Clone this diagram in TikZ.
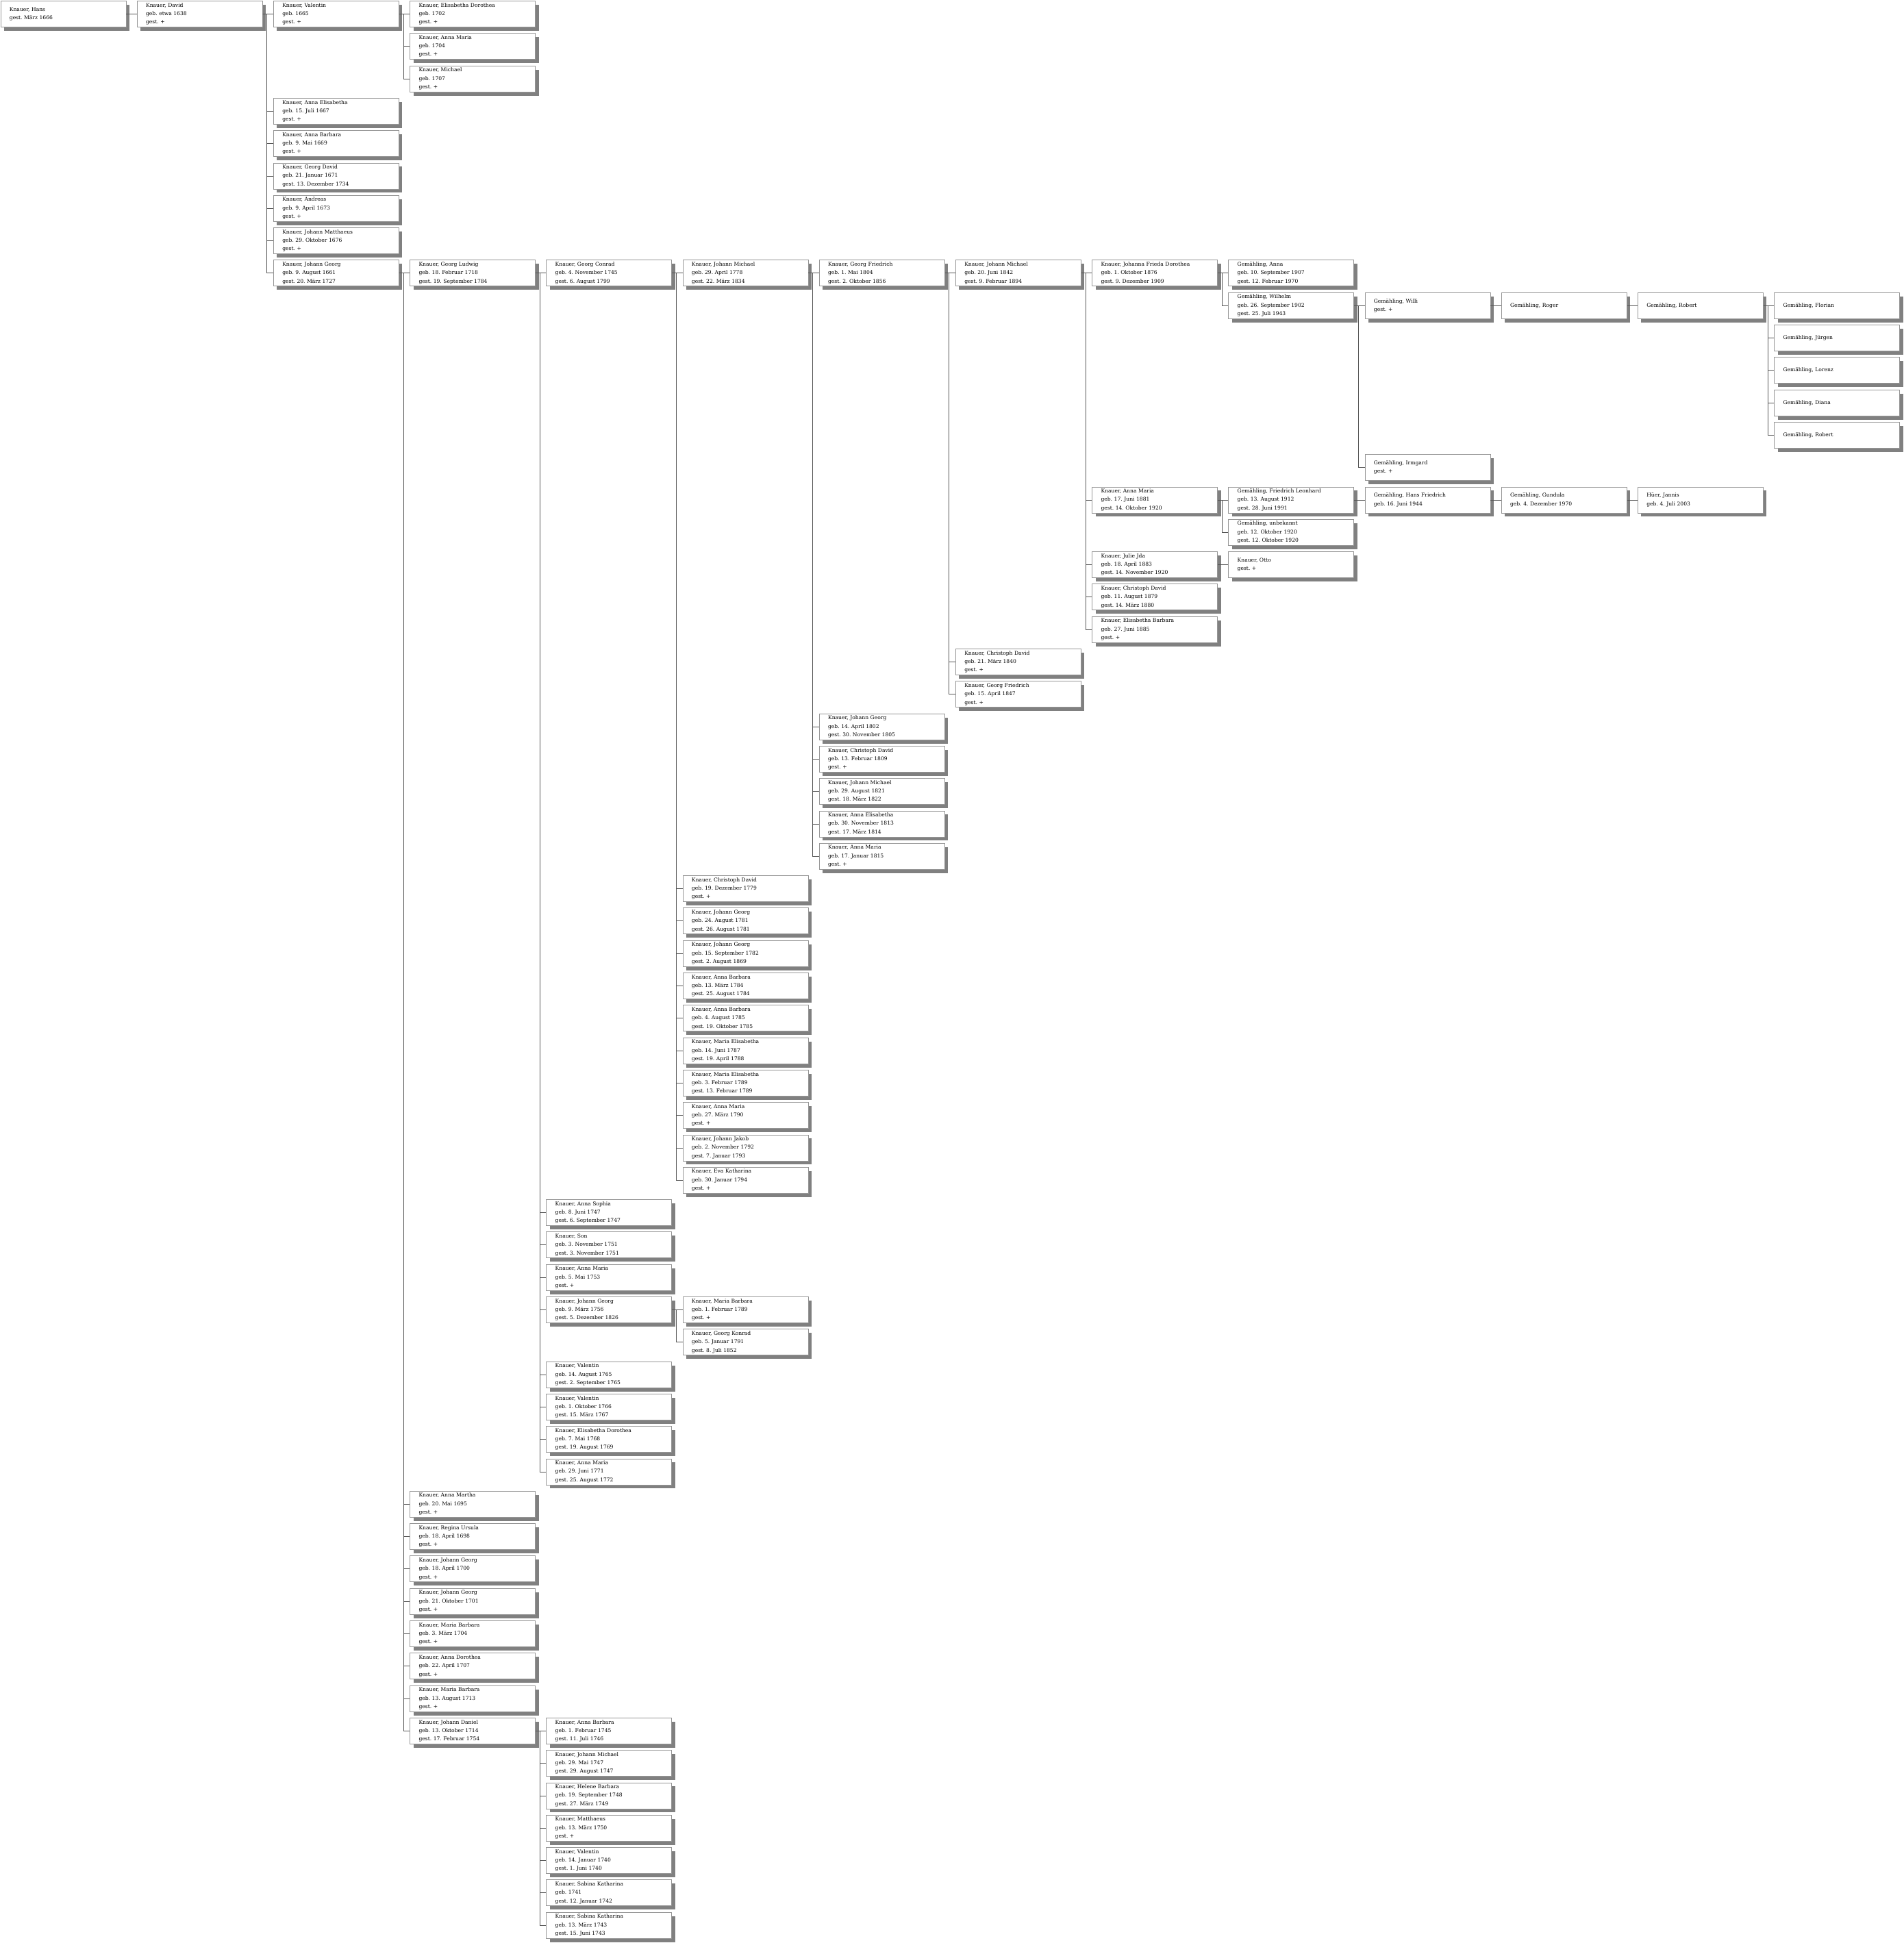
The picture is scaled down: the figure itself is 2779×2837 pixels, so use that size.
\documentclass[tikz,border=0pt]{standalone}
\usepackage{fontspec}
\setmainfont{DejaVu Serif}
\frenchspacing
\usetikzlibrary{shadows}
\definecolor{boxline}{RGB}{150,150,150}
\definecolor{connline}{RGB}{85,85,85}
\definecolor{shadowgray}{RGB}{128,128,128}
\tikzset{
  pbox/.style={draw=boxline, line width=0.8pt, fill=white, rectangle, anchor=north west,
    minimum width=183pt, minimum height=38pt, inner xsep=13pt, inner ysep=0pt,
    text width=157pt, align=left, font=\fontsize{7.6}{12.3}\selectfont\frenchspacing,
    drop shadow={shadow xshift=5pt, shadow yshift=-5.5pt, fill=shadowgray, opacity=1}},
  conn/.style={draw=connline, line width=0.8pt}
}
\newcommand\pp[4]{\node[pbox] (#1) at ({199.2*#2+0.5},{-47.3*#3-1}) {#4};}
\newcommand\kids[2]{\foreach \kk in {#2} {\draw[conn] (#1.east) -- ++(6.2pt,0) |- (\kk.west);}}
\begin{document}
\begin{tikzpicture}[x=1pt,y=1pt]
\useasboundingbox (0,0) rectangle (2779,-2837);
% column 0-2
\pp{hans}{0}{0}{Knauer, Hans\\gest. März 1666}
\pp{david}{1}{0}{Knauer, David\\geb. etwa 1638\\gest. +}
\pp{valentin}{2}{0}{Knauer, Valentin\\geb. 1665\\gest. +}
\pp{annaelis}{2}{3}{Knauer, Anna Elisabetha\\geb. 15. Juli 1667\\gest. +}
\pp{annabarb}{2}{4}{Knauer, Anna Barbara\\geb. 9. Mai 1669\\gest. +}
\pp{georgdavid}{2}{5}{Knauer, Georg David\\geb. 21. Januar 1671\\gest. 13. Dezember 1734}
\pp{andreas}{2}{6}{Knauer, Andreas\\geb. 9. April 1673\\gest. +}
\pp{johmatth}{2}{7}{Knauer, Johann Matthaeus\\geb. 29. Oktober 1676\\gest. +}
\pp{johgeorg}{2}{8}{Knauer, Johann Georg\\geb. 9. August 1661\\gest. 20. März 1727}
% column 3
\pp{ca}{3}{0}{Knauer, Elisabetha Dorothea\\geb. 1702\\gest. +}
\pp{cb}{3}{1}{Knauer, Anna Maria\\geb. 1704\\gest. +}
\pp{cc}{3}{2}{Knauer, Michael\\geb. 1707\\gest. +}
\pp{gludwig}{3}{8}{Knauer, Georg Ludwig\\geb. 18. Februar 1718\\gest. 19. September 1784}
\pp{rA}{3}{46}{Knauer, Anna Martha\\geb. 20. Mai 1695\\gest. +}
\pp{rB}{3}{47}{Knauer, Regina Ursula\\geb. 18. April 1698\\gest. +}
\pp{rC}{3}{48}{Knauer, Johann Georg\\geb. 18. April 1700\\gest. +}
\pp{rD}{3}{49}{Knauer, Johann Georg\\geb. 21. Oktober 1701\\gest. +}
\pp{rE}{3}{50}{Knauer, Maria Barbara\\geb. 3. März 1704\\gest. +}
\pp{rF}{3}{51}{Knauer, Anna Dorothea\\geb. 22. April 1707\\gest. +}
\pp{rG}{3}{52}{Knauer, Maria Barbara\\geb. 13. August 1713\\gest. +}
\pp{jdaniel}{3}{53}{Knauer, Johann Daniel\\geb. 13. Oktober 1714\\gest. 17. Februar 1754}
% column 4
\pp{gconrad}{4}{8}{Knauer, Georg Conrad\\geb. 4. November 1745\\gest. 6. August 1799}
\pp{sA}{4}{37}{Knauer, Anna Sophia\\geb. 8. Juni 1747\\gest. 6. September 1747}
\pp{sB}{4}{38}{Knauer, Son\\geb. 3. November 1751\\gest. 3. November 1751}
\pp{sC}{4}{39}{Knauer, Anna Maria\\geb. 5. Mai 1753\\gest. +}
\pp{sD}{4}{40}{Knauer, Johann Georg\\geb. 9. März 1756\\gest. 5. Dezember 1826}
\pp{sE}{4}{42}{Knauer, Valentin\\geb. 14. August 1765\\gest. 2. September 1765}
\pp{sF}{4}{43}{Knauer, Valentin\\geb. 1. Oktober 1766\\gest. 15. März 1767}
\pp{sG}{4}{44}{Knauer, Elisabetha Dorothea\\geb. 7. Mai 1768\\gest. 19. August 1769}
\pp{sH}{4}{45}{Knauer, Anna Maria\\geb. 29. Juni 1771\\gest. 25. August 1772}
\pp{dA}{4}{53}{Knauer, Anna Barbara\\geb. 1. Februar 1745\\gest. 11. Juli 1746}
\pp{dB}{4}{54}{Knauer, Johann Michael\\geb. 29. Mai 1747\\gest. 29. August 1747}
\pp{dC}{4}{55}{Knauer, Helene Barbara\\geb. 19. September 1748\\gest. 27. März 1749}
\pp{dD}{4}{56}{Knauer, Matthaeus\\geb. 13. März 1750\\gest. +}
\pp{dE}{4}{57}{Knauer, Valentin\\geb. 14. Januar 1740\\gest. 1. Juni 1740}
\pp{dF}{4}{58}{Knauer, Sabina Katharina\\geb. 1741\\gest. 12. Januar 1742}
\pp{dG}{4}{59}{Knauer, Sabina Katharina\\geb. 13. März 1743\\gest. 15. Juni 1743}
% column 5
\pp{jmichA}{5}{8}{Knauer, Johann Michael\\geb. 29. April 1778\\gest. 22. März 1834}
\pp{eA}{5}{27}{Knauer, Christoph David\\geb. 19. Dezember 1779\\gest. +}
\pp{eB}{5}{28}{Knauer, Johann Georg\\geb. 24. August 1781\\gest. 26. August 1781}
\pp{eC}{5}{29}{Knauer, Johann Georg\\geb. 15. September 1782\\gest. 2. August 1869}
\pp{eD}{5}{30}{Knauer, Anna Barbara\\geb. 13. März 1784\\gest. 25. August 1784}
\pp{eE}{5}{31}{Knauer, Anna Barbara\\geb. 4. August 1785\\gest. 19. Oktober 1785}
\pp{eF}{5}{32}{Knauer, Maria Elisabetha\\geb. 14. Juni 1787\\gest. 19. April 1788}
\pp{eG}{5}{33}{Knauer, Maria Elisabetha\\geb. 3. Februar 1789\\gest. 13. Februar 1789}
\pp{eH}{5}{34}{Knauer, Anna Maria\\geb. 27. März 1790\\gest. +}
\pp{eI}{5}{35}{Knauer, Johann Jakob\\geb. 2. November 1792\\gest. 7. Januar 1793}
\pp{eJ}{5}{36}{Knauer, Eva Katharina\\geb. 30. Januar 1794\\gest. +}
\pp{fA}{5}{40}{Knauer, Maria Barbara\\geb. 1. Februar 1789\\gest. +}
\pp{fB}{5}{41}{Knauer, Georg Konrad\\geb. 5. Januar 1791\\gest. 8. Juli 1852}
% column 6
\pp{gfriedA}{6}{8}{Knauer, Georg Friedrich\\geb. 1. Mai 1804\\gest. 2. Oktober 1856}
\pp{gA}{6}{22}{Knauer, Johann Georg\\geb. 14. April 1802\\gest. 30. November 1805}
\pp{gB}{6}{23}{Knauer, Christoph David\\geb. 13. Februar 1809\\gest. +}
\pp{gC}{6}{24}{Knauer, Johann Michael\\geb. 29. August 1821\\gest. 18. März 1822}
\pp{gD}{6}{25}{Knauer, Anna Elisabetha\\geb. 30. November 1813\\gest. 17. März 1814}
\pp{gE}{6}{26}{Knauer, Anna Maria\\geb. 17. Januar 1815\\gest. +}
% column 7
\pp{jmichB}{7}{8}{Knauer, Johann Michael\\geb. 20. Juni 1842\\gest. 9. Februar 1894}
\pp{hA}{7}{20}{Knauer, Christoph David\\geb. 21. März 1840\\gest. +}
\pp{hB}{7}{21}{Knauer, Georg Friedrich\\geb. 15. April 1847\\gest. +}
% column 8
\pp{jfd}{8}{8}{Knauer, Johanna Frieda Dorothea\\geb. 1. Oktober 1876\\gest. 9. Dezember 1909}
\pp{iA}{8}{15}{Knauer, Anna Maria\\geb. 17. Juni 1881\\gest. 14. Oktober 1920}
\pp{iB}{8}{17}{Knauer, Julie Jda\\geb. 18. April 1883\\gest. 14. November 1920}
\pp{iC}{8}{18}{Knauer, Christoph David\\geb. 11. August 1879\\gest. 14. März 1880}
\pp{iD}{8}{19}{Knauer, Elisabetha Barbara\\geb. 27. Juni 1885\\gest. +}
% column 9
\pp{anna}{9}{8}{Gemähling, Anna\\geb. 10. September 1907\\gest. 12. Februar 1970}
\pp{wilhelm}{9}{9}{Gemähling, Wilhelm\\geb. 26. September 1902\\gest. 25. Juli 1943}
\pp{fleon}{9}{15}{Gemähling, Friedrich Leonhard\\geb. 13. August 1912\\gest. 28. Juni 1991}
\pp{unbek}{9}{16}{Gemähling, unbekannt\\geb. 12. Oktober 1920\\gest. 12. Oktober 1920}
\pp{otto}{9}{17}{Knauer, Otto\\gest. +}
% column 10-13
\pp{willi}{10}{9}{Gemähling, Willi\\gest. +}
\pp{irmgard}{10}{14}{Gemähling, Irmgard\\gest. +}
\pp{hansf}{10}{15}{Gemähling, Hans Friedrich\\geb. 16. Juni 1944}
\pp{roger}{11}{9}{Gemähling, Roger}
\pp{gundula}{11}{15}{Gemähling, Gundula\\geb. 4. Dezember 1970}
\pp{robert}{12}{9}{Gemähling, Robert}
\pp{jannis}{12}{15}{Hüer, Jannis\\geb. 4. Juli 2003}
\pp{florian}{13}{9}{Gemähling, Florian}
\pp{juergen}{13}{10}{Gemähling, Jürgen}
\pp{lorenz}{13}{11}{Gemähling, Lorenz}
\pp{diana}{13}{12}{Gemähling, Diana}
\pp{robertB}{13}{13}{Gemähling, Robert}
% connectors
\kids{hans}{david}
\kids{david}{valentin,annaelis,annabarb,georgdavid,andreas,johmatth,johgeorg}
\kids{valentin}{ca,cb,cc}
\kids{johgeorg}{gludwig,rA,rB,rC,rD,rE,rF,rG,jdaniel}
\kids{gludwig}{gconrad,sA,sB,sC,sD,sE,sF,sG,sH}
\kids{jdaniel}{dA,dB,dC,dD,dE,dF,dG}
\kids{gconrad}{jmichA,eA,eB,eC,eD,eE,eF,eG,eH,eI,eJ}
\kids{sD}{fA,fB}
\kids{jmichA}{gfriedA,gA,gB,gC,gD,gE}
\kids{gfriedA}{jmichB,hA,hB}
\kids{jmichB}{jfd,iA,iB,iC,iD}
\kids{jfd}{anna,wilhelm}
\kids{iA}{fleon,unbek}
\kids{iB}{otto}
\kids{wilhelm}{willi,irmgard}
\kids{fleon}{hansf}
\kids{willi}{roger}
\kids{hansf}{gundula}
\kids{roger}{robert}
\kids{gundula}{jannis}
\kids{robert}{florian,juergen,lorenz,diana,robertB}
\end{tikzpicture}
\end{document}
